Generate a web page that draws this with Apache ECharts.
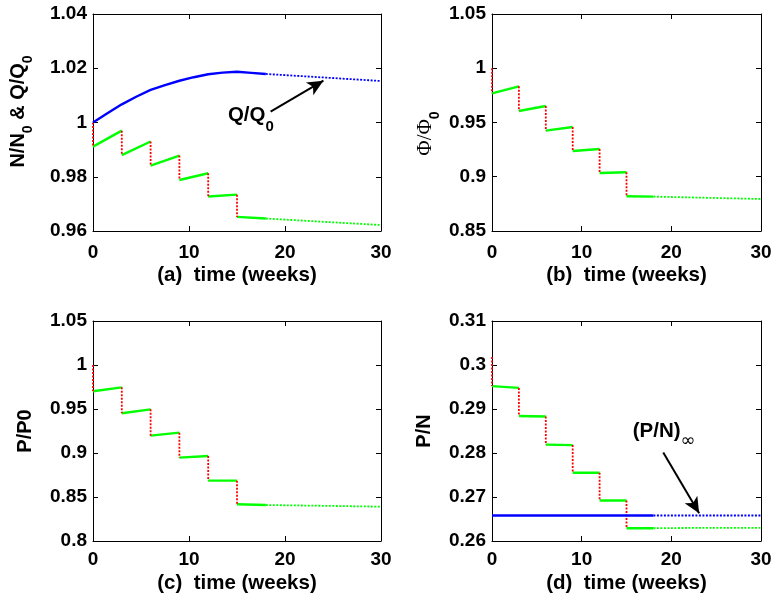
<!DOCTYPE html>
<html><head><meta charset="utf-8">
<script src="https://cdn.jsdelivr.net/npm/echarts@6/dist/echarts.min.js"></script>
<style>html,body{margin:0;padding:0;background:#fff}#c{width:774px;height:601px}</style>
</head><body><div id="c"></div>
<script>
// ---------------- data ----------------
const doseWeeks = [0, 3, 6, 9, 12, 15];
const solidEndWeek = 18;
const tailWeeks = [18, 24, 30];
const xTicks = ['0', '10', '20', '30'];

// (a) N/N0 (green) and Q/Q0 (blue)
const nPre  = [1.0000, 0.9970, 0.9930, 0.9878, 0.9813, 0.9734];
const nPost = [0.9911, 0.9880, 0.9841, 0.9788, 0.9727, 0.9652];
const nTail = [0.9646, 0.9634, 0.9622];
const qWeeks = [0, 1.5, 3, 4.5, 6, 7.5, 9, 10.5, 12, 13.5, 15, 16.5, 18];
const qVals  = [1.0000, 1.0034, 1.0067, 1.0095, 1.0120, 1.0138, 1.0154, 1.0167, 1.0178, 1.0184, 1.0187, 1.0183, 1.0179];
const qTail  = [1.0179, 1.0166, 1.0153];
const yTicksA = ['0.96', '0.98', '1', '1.02', '1.04'];

// (b) Phi/Phi0
const phiPre  = [1.0000, 0.9833, 0.9652, 0.9459, 0.9256, 0.9041];
const phiPost = [0.9769, 0.9606, 0.9425, 0.9237, 0.9035, 0.8820];
const phiTail = [0.8817, 0.8806, 0.8795];
const yTicksB = ['0.85', '0.9', '0.95', '1', '1.05'];

// (c) P/P0
const pPre  = [1.0000, 0.9746, 0.9496, 0.9231, 0.8966, 0.8686];
const pPost = [0.9701, 0.9451, 0.9197, 0.8947, 0.8686, 0.8417];
const pTail = [0.8409, 0.8400, 0.8390];
const yTicksC = ['0.8', '0.85', '0.9', '0.95', '1', '1.05'];

// (d) P/N and (P/N)inf
const pnPre  = [0.3018, 0.2948, 0.2883, 0.2818, 0.2755, 0.2692];
const pnPost = [0.2952, 0.2884, 0.2819, 0.2755, 0.2692, 0.2629];
const pnTail = [0.2629, 0.2630, 0.2630];
const pnInfWeeks = [0, 18];
const pnInfTailWeeks = [18, 30];
const pnInf = 0.2658;
const yTicksD = ['0.26', '0.27', '0.28', '0.29', '0.3', '0.31'];

// annotations (data coordinates)
const arrowA = [[18.5, 1.0040], [24.0, 1.0154]];
const labelA = [14.05, 1.0064];
const arrowD = [[19.1, 0.2801], [23.1, 0.2663]];
const labelD = [15.7, 0.2872];

// ---------------- helpers ----------------
const FONT = "'Liberation Sans', Arial, Helvetica, sans-serif";
const GREEN = '#00ff00', RED = '#ff0000', BLUE = '#0000ff';

function greenSolid(pre, post, tail) {
  const d = [];
  for (let k = 0; k < doseWeeks.length; k++) {
    const last = k + 1 >= doseWeeks.length;
    const t1 = last ? solidEndWeek : doseWeeks[k + 1];
    const y1 = last ? tail[0] : pre[k + 1];
    d.push([doseWeeks[k], post[k]], [t1, y1], [t1, null]);
  }
  return d;
}
function redDrops(pre, post) {
  const d = [];
  for (let k = 0; k < doseWeeks.length; k++) {
    d.push([doseWeeks[k], pre[k]], [doseWeeks[k], post[k]], [doseWeeks[k], null]);
  }
  return d;
}
function zip(xs, ys) { return xs.map((x, i) => [x, ys[i]]); }

const grids = [
  {left: 93, top: 14, width: 288, height: 217},
  {left: 492, top: 14, width: 269, height: 217},
  {left: 93, top: 321, width: 288, height: 220},
  {left: 492, top: 321, width: 269, height: 220}
];

const mainRich = {
  m: {fontSize: 20, fontWeight: 'bold', fontFamily: FONT, color: '#000', verticalAlign: 'top'},
  s: {fontSize: 14, fontWeight: 'bold', fontFamily: FONT, color: '#000', verticalAlign: 'top', padding: [13, 0, 0, 0]},
  f: {fontSize: 21, fontWeight: 'normal', fontFamily: "'Liberation Serif', 'DejaVu Serif', serif", color: '#000', verticalAlign: 'top'}
};

const panels = [
  {xName: '(a)  time (weeks)', yMin: 0.96, yMax: 1.04, yInt: 0.02, ticks: yTicksA, labelMargin: 12, xNameGap: 34,
   yName: '{m|N/N}{s|0}{m| & Q/Q}{s|0}', nameGap: 58, namePad: [0, 0, 0, 22]},
  {xName: '(b)  time (weeks)', yMin: 0.85, yMax: 1.05, yInt: 0.05, ticks: yTicksB, labelMargin: 12, xNameGap: 34,
   yName: '{f|\u03A6/\u03A6}{s|0}', nameGap: 50, namePad: [0, 22, 0, 0]},
  {xName: '(c)  time (weeks)', yMin: 0.8, yMax: 1.05, yInt: 0.05, ticks: yTicksC, labelMargin: 9, xNameGap: 32,
   yName: 'P/P0', nameGap: 58, namePad: [0, 0, 0, 0]},
  {xName: '(d)  time (weeks)', yMin: 0.26, yMax: 0.31, yInt: 0.01, ticks: yTicksD, labelMargin: 9, xNameGap: 32,
   yName: 'P/N', nameGap: 58, namePad: [0, 0, 0, 0]}
];

const axisLineStyle = {show: true, onZero: false, lineStyle: {color: '#000', width: 1}};
const tickStyle = {show: true, inside: true, length: 5, lineStyle: {color: '#000', width: 1}};
const labelStyle = {fontSize: 19, fontWeight: 'bold', color: '#000', fontFamily: FONT};

const xAxes = [], yAxes = [], series = [];
panels.forEach((p, i) => {
  xAxes.push({
    type: 'value', gridIndex: i, position: 'bottom', min: 0, max: 30, interval: 10,
    axisLine: axisLineStyle, axisTick: tickStyle, splitLine: {show: false},
    axisLabel: Object.assign({margin: p.labelMargin, formatter: v => xTicks.find(t => Math.abs(+t - v) < 1e-9) || ''}, labelStyle),
    name: p.xName, nameLocation: 'middle', nameGap: p.xNameGap, nameMoveOverlap: false,
    nameTextStyle: {fontSize: 20.5, fontWeight: 'bold', color: '#000', fontFamily: FONT}
  });
  xAxes.push({
    type: 'value', gridIndex: i, position: 'top', min: 0, max: 30, interval: 10,
    axisLine: axisLineStyle, axisTick: tickStyle, splitLine: {show: false}, axisLabel: {show: false}
  });
  yAxes.push({
    type: 'value', gridIndex: i, position: 'left', min: p.yMin, max: p.yMax, interval: p.yInt,
    axisLine: axisLineStyle, axisTick: tickStyle, splitLine: {show: false},
    axisLabel: Object.assign({margin: 6, formatter: v => p.ticks.find(t => Math.abs(+t - v) < 1e-9) || ''}, labelStyle),
    name: p.yName, nameLocation: 'middle', nameRotate: 90, nameGap: p.nameGap, nameMoveOverlap: false,
    nameTextStyle: {fontSize: 20, fontWeight: 'bold', color: '#000', fontFamily: FONT, padding: p.namePad, rich: mainRich}
  });
  yAxes.push({
    type: 'value', gridIndex: i, position: 'right', min: p.yMin, max: p.yMax, interval: p.yInt,
    axisLine: axisLineStyle, axisTick: tickStyle, splitLine: {show: false}, axisLabel: {show: false}
  });
});

function line(i, data, color, dotted, extra) {
  return Object.assign({
    type: 'line', xAxisIndex: 2 * i, yAxisIndex: 2 * i, data, symbol: 'none', connectNulls: false,
    silent: true, animation: false,
    lineStyle: {color, width: dotted ? 1.8 : 2.4, type: dotted ? [2, 1.5] : 'solid', cap: 'butt'}
  }, extra || {});
}
function arrowMark(pts) {
  return {
    silent: true, animation: false, symbol: ['none', 'arrow'], symbolSize: [11, 16],
    label: {show: false}, lineStyle: {color: '#000', width: 2, type: 'solid'},
    data: [[{coord: pts[0]}, {coord: pts[1]}]]
  };
}

const sets = [[nPre, nPost, nTail], [phiPre, phiPost, phiTail], [pPre, pPost, pTail], [pnPre, pnPost, pnTail]];
sets.forEach((s, i) => {
  series.push(line(i, greenSolid(s[0], s[1], s[2]), GREEN, false));
  series.push(line(i, zip(tailWeeks, s[2]), GREEN, true));
  series.push(line(i, redDrops(s[0], s[1]), RED, true));
});
series.push(line(0, zip(qWeeks, qVals), BLUE, false));
series.push(line(0, zip(tailWeeks, qTail), BLUE, true, {markLine: arrowMark(arrowA)}));
series.push(line(3, pnInfWeeks.map(w => [w, pnInf]), BLUE, false));
series.push(line(3, pnInfTailWeeks.map(w => [w, pnInf]), BLUE, true, {markLine: arrowMark(arrowD)}));

const chart = echarts.init(document.getElementById('c'), null, {renderer: 'canvas'});
chart.setOption({
  animation: false,
  backgroundColor: '#fff',
  grid: grids.map(g => Object.assign({containLabel: false, outerBoundsMode: 'none'}, g)),
  xAxis: xAxes, yAxis: yAxes, series
});

const annRich = {
  m: {fontSize: 20.5, fontWeight: 'bold', fontFamily: FONT, fill: '#000', verticalAlign: 'top'},
  s: {fontSize: 15, fontWeight: 'bold', fontFamily: FONT, fill: '#000', verticalAlign: 'top', padding: [14, 0, 0, 0]},
  i: {fontSize: 18, fontWeight: 'normal', fontFamily: "'DejaVu Sans', sans-serif", fill: '#000', verticalAlign: 'top', padding: [11, 0, 0, 0]}
};
function annot(i, coord, text) {
  const px = chart.convertToPixel({xAxisIndex: 2 * i, yAxisIndex: 2 * i}, coord);
  return {type: 'text', x: px[0], y: px[1], silent: true,
    style: {text, rich: annRich, align: 'left', verticalAlign: 'top', fill: '#000'}};
}
chart.setOption({
  graphic: [
    annot(0, labelA, '{m|Q/Q}{s|0}'),
    annot(3, labelD, '{m|(P/N)}{i|\u221E}')
  ]
});
</script></body></html>
